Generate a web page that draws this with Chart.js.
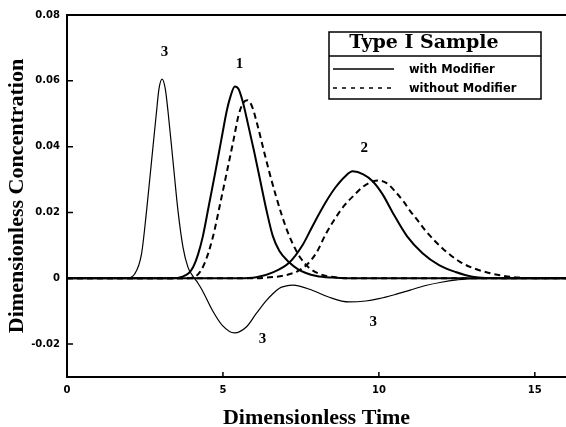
<!DOCTYPE html>
<html>
<head>
<meta charset="utf-8">
<script src="https://cdn.jsdelivr.net/npm/chart.js@4.4.1/dist/chart.umd.min.js"></script>
<style>
  html, body { margin: 0; padding: 0; background: #fff; }
  #wrap { width: 566px; height: 427px; }
</style>
</head>
<body>
<div id="wrap"><canvas id="chart" width="566" height="427"></canvas></div>
<script>
// axis ticks
const xTicks = [0, 5, 10, 15];
const yTicks = [-0.02, 0, 0.02, 0.04, 0.06, 0.08];

// peak 1, with modifier (solid)
const withTime1 = [0, 3.4, 3.7, 3.9, 4.05, 4.2, 4.35, 4.55, 4.76, 4.95, 5.13, 5.25, 5.38, 5.5, 5.64, 5.8, 6.0, 6.2, 6.4, 6.6, 6.81, 7.13, 7.4, 7.66, 8.0, 8.5, 9.0, 16];
const withConc1 = [0, 0, 0.0005, 0.0015, 0.0035, 0.0072, 0.0125, 0.0222, 0.0325, 0.0422, 0.0512, 0.0555, 0.0583, 0.0575, 0.0535, 0.047, 0.0385, 0.0295, 0.0205, 0.0128, 0.0083, 0.0048, 0.0028, 0.0016, 0.0007, 0.0002, 0, 0];

// peak 1, without modifier (dashed)
const withoutTime1 = [0, 3.8, 4.0, 4.2, 4.41, 4.68, 4.91, 5.13, 5.35, 5.5, 5.65, 5.78, 5.92, 6.1, 6.3, 6.5, 6.7, 6.9, 7.1, 7.3, 7.5, 7.75, 8.1, 8.6, 9.2, 16];
const withoutConc1 = [0, 0, 0.0002, 0.0012, 0.0045, 0.0126, 0.0226, 0.0325, 0.0425, 0.0495, 0.0533, 0.0541, 0.0525, 0.0468, 0.0392, 0.0318, 0.025, 0.0188, 0.0135, 0.0093, 0.006, 0.0033, 0.0013, 0.0003, 0, 0];

// peak 2, with modifier (solid)
const withTime2 = [0, 5.5, 6.07, 6.6, 7.13, 7.56, 7.8, 8.05, 8.3, 8.6, 8.9, 9.16, 9.5, 9.8, 10.12, 10.44, 10.9, 11.4, 11.93, 12.46, 13.0, 14.0, 16];
const withConc2 = [0, 0, 0.0003, 0.0018, 0.0048, 0.0102, 0.0145, 0.019, 0.0232, 0.0275, 0.0308, 0.0325, 0.0316, 0.0295, 0.0255, 0.02, 0.0128, 0.0076, 0.004, 0.0019, 0.0005, 0, 0];

// peak 2, without modifier (dashed)
const withoutTime2 = [0, 6.0, 6.5, 7.0, 7.4, 7.7, 8.0, 8.3, 8.6, 8.9, 9.2, 9.5, 9.8, 10.0, 10.25, 10.54, 10.8, 11.0, 11.25, 11.5, 12.05, 12.6, 13.05, 13.5, 13.95, 14.5, 15.5, 16];
const withoutConc2 = [0, 0, 0.0003, 0.0009, 0.0022, 0.0042, 0.0078, 0.0135, 0.0182, 0.0222, 0.0252, 0.0279, 0.0294, 0.0297, 0.0289, 0.0262, 0.0232, 0.0205, 0.0175, 0.0144, 0.009, 0.005, 0.003, 0.0017, 0.0008, 0.0002, 0, 0];

// curve 3 (thin)
const time3 = [0, 1.9, 2.17, 2.39, 2.55, 2.71, 2.87, 2.95, 3.05, 3.15, 3.24, 3.4, 3.56, 3.72, 3.88, 4.04, 4.2, 4.34, 4.66, 4.98, 5.37, 5.75, 6.07, 6.39, 6.6, 6.81, 7.0, 7.24, 7.88, 8.39, 9.04, 9.58, 10.0, 10.5, 11.0, 11.5, 12.0, 12.5, 13.0, 16];
const conc3 = [0, 0, 0.0013, 0.0074, 0.0204, 0.0355, 0.0506, 0.0576, 0.0605, 0.0576, 0.0506, 0.0355, 0.0204, 0.0094, 0.0033, 0.0006, -0.0015, -0.0037, -0.0097, -0.0143, -0.0166, -0.0148, -0.0107, -0.0068, -0.0047, -0.003, -0.0024, -0.0021, -0.0037, -0.0057, -0.0072, -0.0069, -0.0062, -0.005, -0.0036, -0.0022, -0.0012, -0.0005, -0.0001, 0];

// curve numbers written on the plot
const curveLabels = ['3', '1', '2', '3', '3'];
const curveLabelTime = [3.13, 5.53, 9.53, 6.27, 9.82];
const curveLabelConc = [0.0687, 0.0652, 0.0395, -0.0185, -0.0134];

const legendTitle = 'Type I Sample';
const legendNames = ['with Modifier', 'without Modifier'];

const pts = (t, c) => t.map((v, i) => ({ x: v, y: c[i] }));

const solid = { borderColor: '#000', borderWidth: 2, pointRadius: 0, cubicInterpolationMode: 'monotone', fill: false };
const dashed = { ...solid, borderDash: [6, 4] };

// inside tick marks, top frame line, curve numbers
const frame = {
  id: 'frame',
  afterDraw(chart) {
    const { ctx, chartArea: a, scales: { x, y } } = chart;
    ctx.save();
    ctx.strokeStyle = '#000';
    ctx.lineWidth = 2;
    ctx.beginPath();
    ctx.moveTo(a.left, a.top);
    ctx.lineTo(a.right, a.top);
    ctx.stroke();
    ctx.lineWidth = 1.5;
    ctx.beginPath();
    yTicks.forEach(v => {
      const py = y.getPixelForValue(v);
      ctx.moveTo(a.left, py);
      ctx.lineTo(a.left + 6, py);
    });
    xTicks.forEach(v => {
      const px = x.getPixelForValue(v);
      ctx.moveTo(px, a.bottom);
      ctx.lineTo(px, a.bottom - 5);
    });
    ctx.stroke();

    ctx.fillStyle = '#000';
    ctx.font = 'bold 15px "Liberation Serif"';
    ctx.textAlign = 'center';
    ctx.textBaseline = 'middle';
    curveLabels.forEach((s, i) => {
      ctx.fillText(s, x.getPixelForValue(curveLabelTime[i]), y.getPixelForValue(curveLabelConc[i]));
    });
    ctx.restore();
  }
};

const boxLegend = {
  id: 'boxLegend',
  afterDraw(chart) {
    const { ctx, chartArea: a } = chart;
    const left = a.right - 237, top = a.top + 17, w = 212, h = 67;
    ctx.save();
    ctx.fillStyle = '#fff';
    ctx.fillRect(left, top, w, h);
    ctx.strokeStyle = '#000';
    ctx.lineWidth = 1.5;
    ctx.strokeRect(left, top, w, h);
    ctx.beginPath();
    ctx.moveTo(left, top + 24);
    ctx.lineTo(left + w, top + 24);
    ctx.stroke();
    ctx.fillStyle = '#000';
    ctx.font = 'bold 19px "DejaVu Serif"';
    ctx.textAlign = 'center';
    ctx.textBaseline = 'middle';
    ctx.fillText(legendTitle, left + 95, top + 11);
    ctx.font = 'bold 11.5px "DejaVu Sans"';
    ctx.textAlign = 'left';
    legendNames.forEach((name, i) => {
      const ds = chart.data.datasets[i];
      const yy = top + 37 + i * 19;
      ctx.setLineDash(ds.borderDash ? [4, 5] : []);
      ctx.lineWidth = 1.5;
      ctx.beginPath();
      ctx.moveTo(left + 4, yy);
      ctx.lineTo(left + 65, yy);
      ctx.stroke();
      ctx.setLineDash([]);
      ctx.fillText(name, left + 80, yy + 1.5);
    });
    ctx.restore();
  }
};

const tickFont = { family: 'DejaVu Sans', size: 10, weight: 'bold' };
const titleFont = { family: 'Liberation Serif', weight: 'bold', size: 22, lineHeight: 0.8 };

new Chart(document.getElementById('chart'), {
  type: 'line',
  data: {
    datasets: [
      { label: 'with Modifier', data: pts(withTime1, withConc1), ...solid },
      { label: 'without Modifier', data: pts(withoutTime1, withoutConc1), ...dashed },
      { label: 'with Modifier 2', data: pts(withTime2, withConc2), ...solid },
      { label: 'without Modifier 2', data: pts(withoutTime2, withoutConc2), ...dashed },
      { label: 'curve 3', data: pts(time3, conc3), ...solid, borderWidth: 1.2 }
    ]
  },
  options: {
    responsive: false,
    animation: false,
    layout: { padding: { top: 15, right: 0, bottom: 0, left: 0 } },
    plugins: { legend: { display: false }, tooltip: { enabled: false } },
    scales: {
      x: {
        type: 'linear',
        min: 0,
        max: 16,
        afterBuildTicks: s => { s.ticks = xTicks.map(v => ({ value: v })); },
        afterFit: s => { s.height = 50; },
        grid: { display: false, drawTicks: false },
        border: { display: true, color: '#000', width: 2 },
        ticks: { font: tickFont, color: '#000', padding: 7, maxRotation: 0, autoSkip: false, callback: v => String(v) },
        title: { display: true, text: 'Dimensionless Time', color: '#000', font: titleFont, padding: 0 }
      },
      y: {
        min: -0.03,
        max: 0.08,
        afterBuildTicks: s => { s.ticks = yTicks.map(v => ({ value: v })); },
        afterFit: s => { s.width = 67; },
        grid: { display: false, drawTicks: false },
        border: { display: true, color: '#000', width: 2 },
        ticks: { font: tickFont, color: '#000', padding: 7, autoSkip: false, callback: v => (v === 0 ? '0' : v.toFixed(2)) },
        title: { display: true, text: 'Dimensionless Concentration', color: '#000', font: titleFont, padding: { top: 9, bottom: 0 } }
      }
    }
  },
  plugins: [frame, boxLegend]
});
</script>
</body>
</html>
